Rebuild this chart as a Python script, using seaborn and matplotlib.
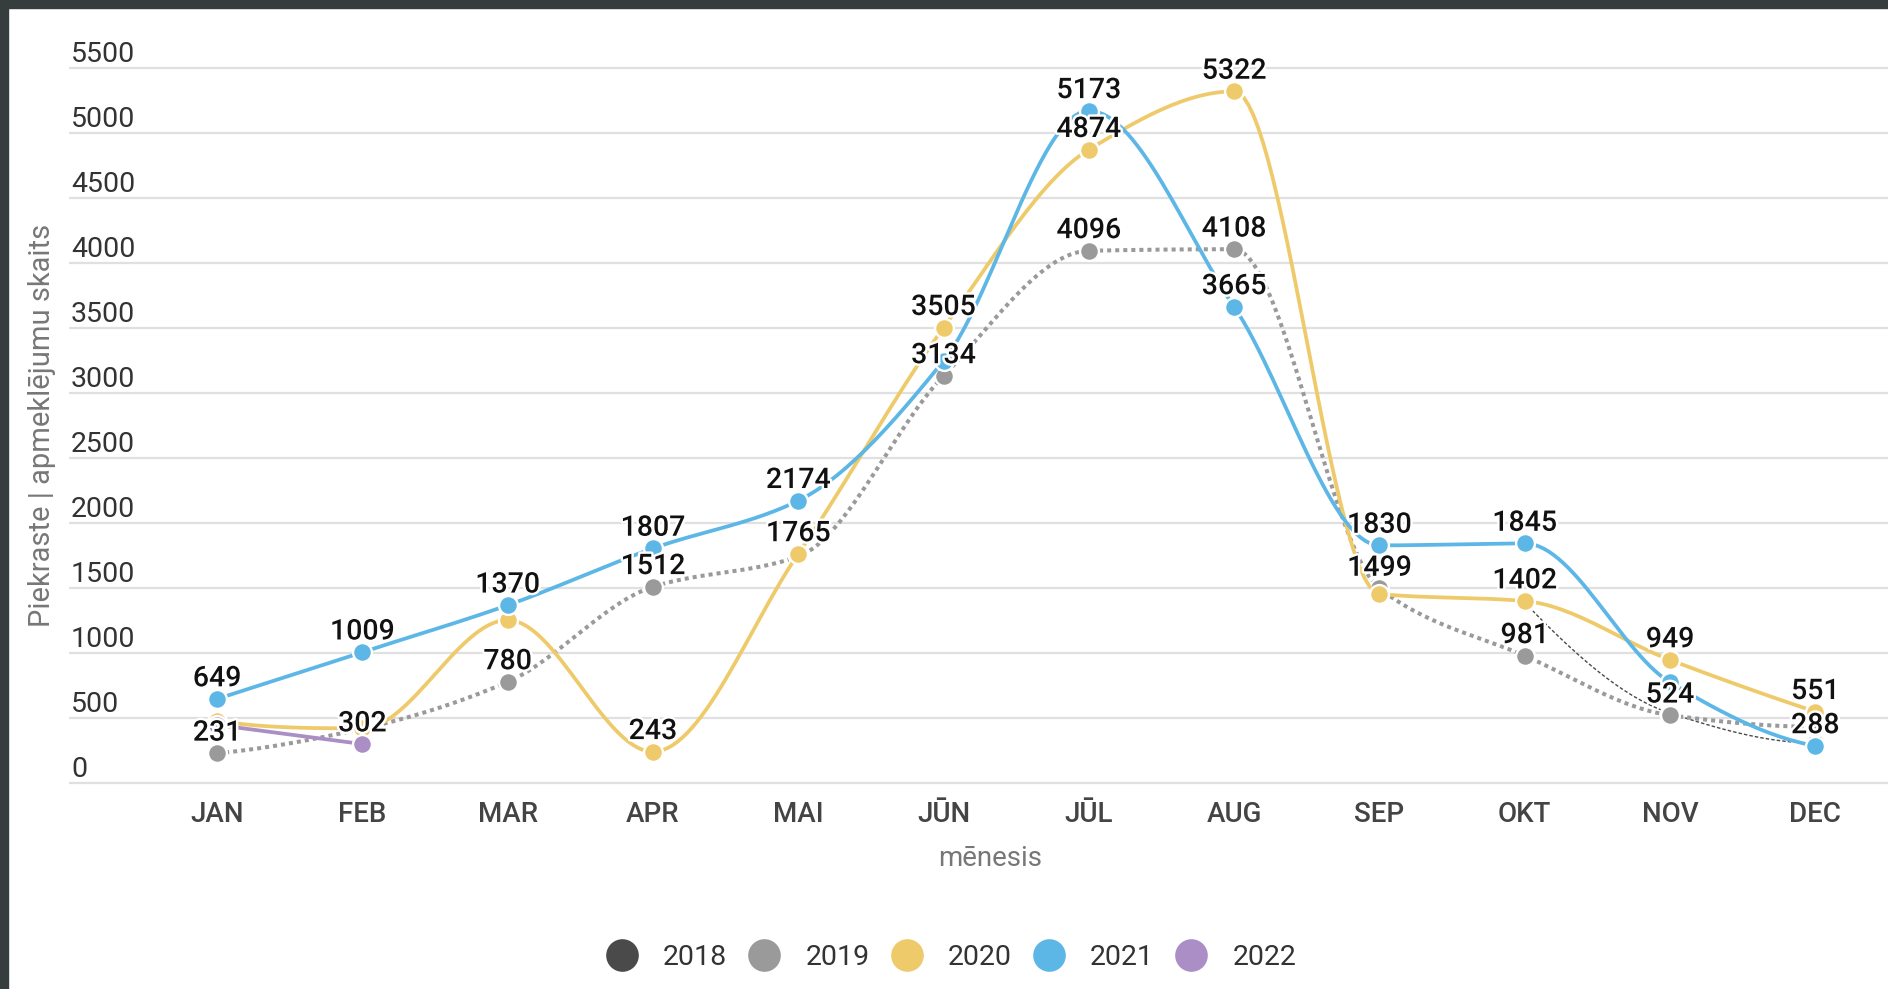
import numpy as np
import pandas as pd
import seaborn as sns
import matplotlib.pyplot as plt
import matplotlib.patheffects as pe
from matplotlib.lines import Line2D
from matplotlib.patches import Rectangle

nan = np.nan

MONTHS = ['JAN', 'FEB', 'MAR', 'APR', 'MAI', 'JŪN', 'JŪL', 'AUG', 'SEP', 'OKT', 'NOV', 'DEC']
YEARS = ['2018', '2019', '2020', '2021', '2022']

v2018 = [nan, nan, nan, nan, nan, nan, nan, nan, nan, 1390, 540, 310]
v2019 = [231, 420, 780, 1512, 1745, 3134, 4096, 4108, 1499, 981, 524, 435]
v2020 = [480, 423, 1256, 243, 1765, 3505, 4874, 5322, 1456, 1402, 949, 551]
v2021 = [649, 1009, 1370, 1807, 2174, 3250, 5173, 3665, 1830, 1845, 777, 288]
v2022 = [449, 302, nan, nan, nan, nan, nan, nan, nan, nan, nan, nan]

# labels that the original chart hides because they overlap
HIDDEN = {
    '2018': MONTHS,
    '2019': ['FEB', 'MAI', 'DEC'],
    '2020': ['JAN', 'FEB', 'MAR', 'SEP'],
    '2021': ['JŪN', 'NOV'],
    '2022': ['JAN'],
}

COLORS = {'2018': '#4a4a4a', '2019': '#9a9a9a', '2020': '#efca6a',
          '2021': '#5db7e6', '2022': '#ab8ec6'}

df = pd.DataFrame({'month': MONTHS, '2018': v2018, '2019': v2019,
                   '2020': v2020, '2021': v2021, '2022': v2022})
df['x'] = np.arange(len(MONTHS))


def pchip(x, y, n=30):
    # monotone cubic (Fritsch-Carlson) for a smooth line through the points
    x = np.asarray(x, float)
    y = np.asarray(y, float)
    if len(x) < 3:
        return x, y
    h = np.diff(x)
    d = np.diff(y) / h
    m = np.zeros(len(x))
    for k in range(1, len(x) - 1):
        if d[k - 1] * d[k] <= 0:
            m[k] = 0
        else:
            w1 = 2 * h[k] + h[k - 1]
            w2 = h[k] + 2 * h[k - 1]
            m[k] = (w1 + w2) / (w1 / d[k - 1] + w2 / d[k])

    def end(h0, h1, d0, d1):
        v = ((2 * h0 + h1) * d0 - h0 * d1) / (h0 + h1)
        if np.sign(v) != np.sign(d0):
            return 0.0
        if np.sign(d0) != np.sign(d1) and abs(v) > abs(3 * d0):
            return 3 * d0
        return v

    m[0] = end(h[0], h[1], d[0], d[1])
    m[-1] = end(h[-1], h[-2], d[-1], d[-2])
    xs, ys = [], []
    for k in range(len(x) - 1):
        t = np.linspace(0, 1, n, endpoint=(k == len(x) - 2))
        h00 = 2 * t**3 - 3 * t**2 + 1
        h10 = t**3 - 2 * t**2 + t
        h01 = -2 * t**3 + 3 * t**2
        h11 = t**3 - t**2
        xs.append(x[k] + t * h[k])
        ys.append(h00 * y[k] + h10 * h[k] * m[k] + h01 * y[k + 1] + h11 * h[k] * m[k + 1])
    return np.concatenate(xs), np.concatenate(ys)


sns.set_theme(style='white')
plt.rcParams['font.family'] = ['Roboto', 'DejaVu Sans']

fig = plt.figure(figsize=(18.88, 9.89), dpi=100)
ax = fig.add_axes([0.0365, 0.2060, 0.9635, 0.7513])

line_styles = {
    '2018': dict(lw=1.0, linestyle=(0, (2.5, 1.5))),
    '2019': dict(lw=2.9, linestyle=(0, (1, 1))),
    '2020': dict(lw=2.7, linestyle='-'),
    '2021': dict(lw=2.7, linestyle='-'),
    '2022': dict(lw=2.7, linestyle='-'),
}

for i, yr in enumerate(YEARS):
    sub = df[['x', yr]].dropna()
    xs, ys = pchip(sub['x'], sub[yr])
    sns.lineplot(x=xs, y=ys, ax=ax, color=COLORS[yr], sort=False,
                 estimator=None, zorder=3 + 2 * i, **line_styles[yr])
    sns.scatterplot(x=sub['x'], y=sub[yr], ax=ax, color=COLORS[yr], s=185,
                    edgecolor='white', linewidth=1.7, zorder=4 + 2 * i, legend=False)

halo = [pe.withStroke(linewidth=3.5, foreground='white')]
for yr in YEARS:
    for xi, (m, v) in enumerate(zip(MONTHS, df[yr])):
        if np.isnan(v) or m in HIDDEN[yr]:
            continue
        ax.annotate(f'{int(v)}', xy=(xi, v), xytext=(0, 14.5), textcoords='offset points',
                    ha='center', va='center', fontsize=20.5, fontweight='medium',
                    color='#111111', path_effects=halo, zorder=30)

ax.set_xlim(-1.02, 11.5)
ax.set_ylim(-15, 5700)
ax.set_xticks(range(len(MONTHS)))
ax.set_xticklabels(MONTHS, fontsize=20, color='#444444', fontweight='medium')
yticks = list(range(0, 5501, 500))
ax.set_yticks(yticks)
ax.tick_params(axis='y', length=0, labelleft=False)
ax.tick_params(axis='x', length=0, pad=11.5)
ax.yaxis.grid(True, color='#e0e0e0', lw=1.6)
ax.xaxis.grid(False)
for s in ax.spines.values():
    s.set_visible(False)
ax.set_xlabel('')
ax.set_ylabel('')

for t in yticks:
    ax.annotate(str(t), xy=(0, t), xycoords=('axes fraction', 'data'),
                xytext=(1.5, 4.7), textcoords='offset points', ha='left', va='baseline',
                fontsize=20.5, color='#333333', annotation_clip=False)

fig.text(990 / 1888, 1 - 859 / 989, 'mēnesis', ha='center', va='center',
         fontsize=20, color='#777777')
fig.text(42 / 1888, 1 - 425 / 989, 'Piekraste | apmeklējumu skaits', ha='center',
         va='center', rotation=90, fontsize=21, color='#777777')

handles = [Line2D([], [], marker='o', ls='', ms=23.5, color=COLORS[yr], markeredgewidth=0)
           for yr in YEARS]
fig.legend(handles, YEARS, loc='center', bbox_to_anchor=(0.5034, 0.032), ncol=5,
           frameon=False, fontsize=20.5, labelcolor='#333333', handlelength=1.2,
           handletextpad=0.85, columnspacing=0.7, borderpad=0)

# dark frame on the top and left edges
fig.patches.append(Rectangle((0, 1 - 8 / 989), 1, 8 / 989, transform=fig.transFigure,
                             color='#353d3d', zorder=0))
fig.patches.append(Rectangle((0, 0), 8 / 1888, 1, transform=fig.transFigure,
                             color='#353d3d', zorder=0))

fig.savefig('out.png', dpi=100, facecolor='white')
